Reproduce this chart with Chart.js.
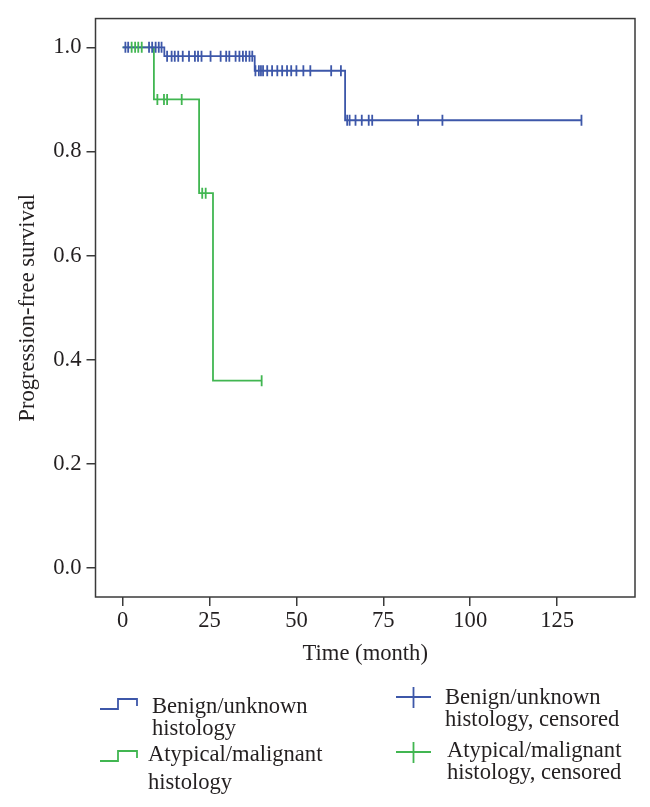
<!DOCTYPE html>
<html>
<head>
<meta charset="utf-8">
<script src="https://cdn.jsdelivr.net/npm/chart.js@4.4.1/dist/chart.umd.min.js"></script>
<style>
	body { margin: 0; background: #fff; overflow: hidden; }
	canvas { display: block; }
</style>
</head>
<body>
<canvas id="canvas" width="650" height="807"></canvas>
<script>
// Kaplan-Meier steps (time in months, survival after the drop)
var benignTimes = [0, 12, 38, 64, 132];
var benignSurv = [1.0, 0.983, 0.955, 0.86, 0.86];
var atypicalTimes = [0, 9, 22, 26, 40];
var atypicalSurv = [1.0, 0.9, 0.72, 0.36, 0.36];

// censored observations (months)
var benignCensored = [0.8, 1.6, 7.6, 8.5, 9.5, 10.4, 11.2,
	12.8, 14.1, 15.0, 16.0, 17.3, 19.1, 20.8, 21.7, 22.7, 25.3, 28.2, 29.8, 30.7, 32.5, 33.6, 34.6, 35.5, 36.5, 37.3,
	38.2, 39.2, 39.8, 40.4, 41.6, 43.0, 44.5, 45.9, 47.3, 48.5, 50.0, 52.0, 54.0, 60.0, 62.8,
	64.6, 65.3, 67.0, 68.8, 70.8, 71.8, 85.0, 92.0, 132.0];
var atypicalCensored = [2.6, 3.6, 4.5, 5.5, 10.0, 11.9, 12.8, 17.0, 22.9, 23.9, 40.0];

var yTicks = [0, 0.2, 0.4, 0.6, 0.8, 1.0];
var xTicks = [0, 25, 50, 75, 100, 125];

var legendLabels = [
	['Benign/unknown', 'histology'],
	['Atypical/malignant', 'histology'],
	['Benign/unknown', 'histology, censored'],
	['Atypical/malignant', 'histology, censored']
];

var BLUE = '#3d57a9';
var GREEN = '#41b651';
var INK = '#231f20';
var FRAME = '#3a3a3a';
var FONT = '"Liberation Serif", "Times New Roman", serif';
var FSIZE = 22.6;

function stepPoints(times, surv) {
	var pts = [];
	for (var i = 0; i < times.length; i++) pts.push({x: times[i], y: surv[i]});
	return pts;
}

// survival level of a curve at time t (for placing censor marks)
function survAt(times, surv, t) {
	var s = surv[0];
	for (var i = 0; i < times.length; i++) {
		if (times[i] <= t) s = surv[i];
	}
	return s;
}

function censorPoints(list, times, surv) {
	return list.map(function(t) { return {x: t, y: survAt(times, surv, t)}; });
}

var framePlugin = {
	id: 'frame',
	afterDatasetsDraw: function(chart) {
		var a = chart.chartArea, ctx = chart.ctx;
		ctx.save();
		ctx.strokeStyle = FRAME;
		ctx.lineWidth = 1.5;
		ctx.strokeRect(a.left, a.top, a.right - a.left, a.bottom - a.top);
		ctx.restore();
	}
};

var legendPlugin = {
	id: 'kmLegend',
	afterDraw: function(chart) {
		var ctx = chart.ctx;
		ctx.save();
		ctx.lineWidth = 1.8;

		// step icons
		function stepIcon(color, x, y) {
			ctx.strokeStyle = color;
			ctx.beginPath();
			ctx.moveTo(x, y + 10);
			ctx.lineTo(x + 18, y + 10);
			ctx.lineTo(x + 18, y);
			ctx.lineTo(x + 37, y);
			ctx.lineTo(x + 37, y + 7);
			ctx.stroke();
		}
		function crossIcon(color, cx, cy) {
			ctx.strokeStyle = color;
			ctx.beginPath();
			ctx.moveTo(cx - 17.5, cy);
			ctx.lineTo(cx + 17.5, cy);
			ctx.moveTo(cx, cy - 10);
			ctx.lineTo(cx, cy + 11);
			ctx.stroke();
		}
		stepIcon(BLUE, 100, 699);
		stepIcon(GREEN, 100, 751);
		crossIcon(BLUE, 413.5, 697);
		crossIcon(GREEN, 413.5, 752);

		ctx.fillStyle = INK;
		ctx.font = FSIZE + 'px ' + FONT;
		ctx.textBaseline = 'middle';
		ctx.textAlign = 'left';
		ctx.fillText(legendLabels[0][0], 152, 707);
		ctx.fillText(legendLabels[0][1], 152, 729);
		ctx.fillText(legendLabels[1][0], 148, 755);
		ctx.fillText(legendLabels[1][1], 148, 783);
		ctx.fillText(legendLabels[2][0], 445, 698);
		ctx.fillText(legendLabels[2][1], 445, 720);
		ctx.fillText(legendLabels[3][0], 447, 751);
		ctx.fillText(legendLabels[3][1], 447, 773);
		ctx.restore();
	}
};

var ctx = document.getElementById('canvas').getContext('2d');
window.kmChart = new Chart(ctx, {
	type: 'scatter',
	data: {
		datasets: [{
			label: 'Atypical/malignant histology',
			data: stepPoints(atypicalTimes, atypicalSurv),
			showLine: true,
			stepped: true,
			borderColor: GREEN,
			borderWidth: 1.8,
			pointRadius: 0,
			order: 4
		}, {
			label: 'Benign/unknown histology',
			data: stepPoints(benignTimes, benignSurv),
			showLine: true,
			stepped: true,
			borderColor: BLUE,
			borderWidth: 1.8,
			pointRadius: 0,
			order: 3
		}, {
			label: 'Benign/unknown histology, censored',
			data: censorPoints(benignCensored, benignTimes, benignSurv),
			pointStyle: 'line',
			rotation: 90,
			pointRadius: 5.5,
			borderColor: BLUE,
			backgroundColor: BLUE,
			pointBorderWidth: 1.8,
			order: 2
		}, {
			label: 'Atypical/malignant histology, censored',
			data: censorPoints(atypicalCensored, atypicalTimes, atypicalSurv),
			pointStyle: 'line',
			rotation: 90,
			pointRadius: 5.5,
			borderColor: GREEN,
			backgroundColor: GREEN,
			pointBorderWidth: 1.8,
			order: 1
		}]
	},
	options: {
		responsive: false,
		animation: false,
		events: [],
		layout: { padding: { left: 0, right: 15, top: 14, bottom: 139 } },
		plugins: {
			legend: { display: false },
			tooltip: { enabled: false },
			title: { display: false }
		},
		scales: {
			x: {
				type: 'linear',
				min: -7.8,
				max: 147.4,
				afterFit: function(scale) { scale.height = 71; },
				afterBuildTicks: function(scale) {
					scale.ticks = xTicks.map(function(v) { return {value: v}; });
				},
				border: { display: false },
				grid: { drawOnChartArea: false, drawTicks: true, tickLength: 9, color: FRAME, lineWidth: 1.5 },
				ticks: { color: INK, font: { family: FONT, size: FSIZE }, padding: 2, maxRotation: 0 },
				title: { display: true, text: 'Time (month)', color: INK, font: { family: FONT, size: FSIZE }, padding: 0 }
			},
			y: {
				type: 'linear',
				min: -0.0552,
				max: 1.0552,
				afterFit: function(scale) { scale.width = 95.5; },
				afterBuildTicks: function(scale) {
					scale.ticks = yTicks.map(function(v) { return {value: v}; });
				},
				border: { display: false },
				grid: { drawOnChartArea: false, drawTicks: true, tickLength: 9, color: FRAME, lineWidth: 1.5 },
				ticks: {
					color: INK, font: { family: FONT, size: FSIZE }, padding: 5,
					callback: function(v) { return Number(v).toFixed(1); }
				},
				title: { display: true, text: 'Progression-free survival', color: INK, font: { family: FONT, size: FSIZE }, padding: { top: 15 } }
			}
		}
	},
	plugins: [framePlugin, legendPlugin]
});
</script>
</body>
</html>
